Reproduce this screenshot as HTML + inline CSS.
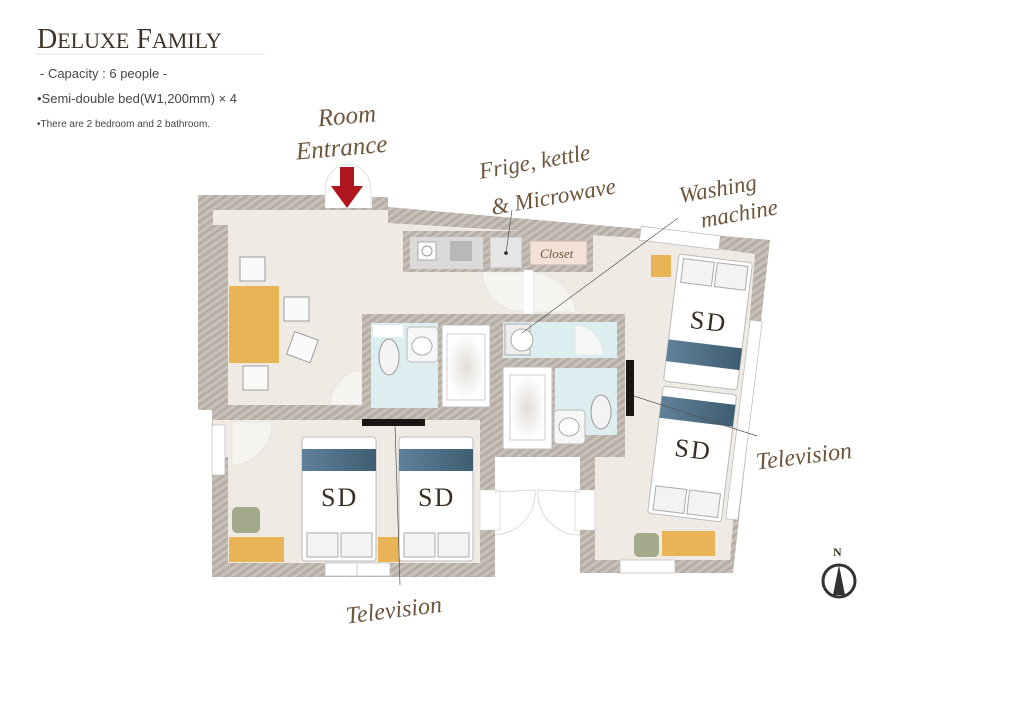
<!DOCTYPE html>
<html><head><meta charset="utf-8"><style>
html,body{margin:0;padding:0;background:#fff;}
svg{display:block}
.t{font-family:"Liberation Serif",serif;fill:#3e3226}
.s{font-family:"Liberation Sans",sans-serif;fill:#4a4540}
.sc{font-family:"Liberation Serif",serif;font-style:italic;fill:#6e553b}
.sd{font-family:"Liberation Serif",serif;fill:#3a2e22;font-size:26px;letter-spacing:2px}
</style></head><body>
<svg width="1024" height="723" viewBox="0 0 1024 723" xmlns="http://www.w3.org/2000/svg">
<defs>
<pattern id="h" width="6" height="6" patternUnits="userSpaceOnUse" patternTransform="rotate(-35)">
<rect width="6" height="6" fill="#bfb7ae"/><line x1="0" y1="2" x2="6" y2="2" stroke="#aca399" stroke-width="1"/><line x1="0" y1="5" x2="6" y2="5" stroke="#d2ccc5" stroke-width="1"/>
</pattern>
<linearGradient id="bl" x1="0" x2="1"><stop offset="0" stop-color="#5f8199"/><stop offset="1" stop-color="#3f5d72"/></linearGradient>
<radialGradient id="tub"><stop offset="0" stop-color="#e2ded8"/><stop offset="1" stop-color="#fff"/></radialGradient>
</defs>

<!-- header -->
<text x="37" y="48" class="t" font-size="28">D<tspan font-size="22">ELUXE</tspan> F<tspan font-size="22">AMILY</tspan></text>
<line x1="35" y1="54" x2="265" y2="54" stroke="#e6e2dc" stroke-width="1"/>
<text x="40" y="78" class="s" font-size="13">- Capacity : 6 people -</text>
<text x="37" y="103" class="s" font-size="13">•Semi-double bed(W1,200mm) × 4</text>
<text x="37" y="127" class="s" font-size="10" fill="#777">•There are 2 bedroom and 2 bathroom.</text>

<!-- entrance arc -->
<path d="M325 210 L325 190 A23 26 0 0 1 371 190 L371 210 Z" fill="#fff" stroke="#ccc" stroke-width="0.6"/>

<!-- walls -->
<path d="M198 195 L325 195 L325 208 L372 208 L372 197 L388 197 L388 207 L770 240 L733 573 L580 573 L580 456 L495 456 L495 577 L212 577 L212 410 L198 410 Z" fill="url(#h)"/>

<!-- floor -->
<path d="M213 210 L388 210 L388 223 L640 238 L755 254 L730 560 L595 560 L595 457 L213 457 Z" fill="#efebe4"/>
<rect x="228" y="420" width="252" height="143" fill="#efebe4"/>
<rect x="213" y="210" width="15" height="15" fill="#efebe4"/>
<rect x="213" y="225" width="15" height="185" fill="url(#h)"/>
<rect x="213" y="405" width="280" height="15" fill="url(#h)"/>
<rect x="480" y="405" width="15" height="172" fill="url(#h)"/>
<rect x="495" y="456" width="85" height="122" fill="#fff"/>

<!-- kitchen counter -->
<rect x="403" y="231" width="190" height="41" fill="url(#h)"/>
<rect x="410" y="237" width="73" height="32" fill="#dcdad8"/>
<rect x="418" y="242" width="18" height="18" fill="#fff" stroke="#aaa"/><circle cx="427" cy="251" r="5" fill="none" stroke="#999"/>
<rect x="450" y="241" width="22" height="20" fill="#b9b8b6"/>
<rect x="490" y="237" width="32" height="31" fill="#e6e5e3" stroke="#bbb"/>
<circle cx="506" cy="253" r="1.8" fill="#222"/>
<rect x="530" y="241" width="57" height="24" fill="#f3e0d6" stroke="#c9b8ac"/>
<text x="540" y="258" class="sc" font-size="13" fill="#5a4a3e">Closet</text>
<!-- doors -->
<path d="M482 272 L525 272 L525 312 A43 40 0 0 1 482 272 Z" fill="#f6f4f0" stroke="#ddd" stroke-width="0.6"/>
<path d="M533 272 A50 45 0 0 1 576 312 L533 312 Z" fill="#f6f4f0" stroke="#ddd" stroke-width="0.6"/>
<rect x="524" y="270" width="9" height="44" fill="#fff"/>
<path d="M362 370 A34 38 0 0 0 330 405 L362 405 Z" fill="#f6f4f0" stroke="#ddd" stroke-width="0.6"/>
<path d="M232 422 L272 422 A42 42 0 0 1 232 465 Z" fill="#f6f4f0" stroke="#ddd" stroke-width="0.6"/>

<!-- bath left -->
<rect x="362" y="314" width="133" height="98" fill="url(#h)"/>
<rect x="371" y="323" width="67" height="85" fill="#dceef0"/>
<rect x="373" y="325" width="30" height="12" fill="#fff"/>
<ellipse cx="389" cy="357" rx="10" ry="18" fill="#f3f3f3" stroke="#999"/>
<rect x="407" y="327" width="31" height="35" rx="4" fill="#f6f6f6" stroke="#bbb"/>
<ellipse cx="422" cy="346" rx="10" ry="9" fill="#fff" stroke="#aaa"/>
<rect x="442" y="325" width="48" height="82" fill="#fff" stroke="#bbb"/>
<rect x="447" y="334" width="38" height="66" fill="url(#tub)" stroke="#ccc"/>

<!-- bath right -->
<rect x="495" y="314" width="130" height="143" fill="url(#h)"/>
<rect x="503" y="322" width="114" height="36" fill="#dceef0"/>
<rect x="505" y="324" width="25" height="31" fill="#eee" stroke="#aaa"/>
<ellipse cx="522" cy="340" rx="11" ry="11" fill="#fff" stroke="#aaa"/>
<path d="M575 325 A28 30 0 0 1 603 355 L575 355 Z" fill="#f6f8f8" stroke="#ddd" stroke-width="0.6"/>
<rect x="503" y="367" width="49" height="82" fill="#fff" stroke="#bbb"/>
<rect x="510" y="375" width="35" height="65" fill="url(#tub)" stroke="#ccc"/>
<rect x="555" y="368" width="62" height="67" fill="#dceef0"/>
<ellipse cx="601" cy="412" rx="10" ry="17" fill="#f3f3f3" stroke="#999"/>
<rect x="554" y="410" width="31" height="34" rx="4" fill="#f6f6f6" stroke="#bbb"/>
<ellipse cx="569" cy="427" rx="10" ry="9" fill="#fff" stroke="#aaa"/>

<!-- TVs -->
<rect x="362" y="419" width="63" height="7" fill="#1a1412"/>
<rect x="626" y="360" width="8" height="56" fill="#1a1412"/>

<!-- double doors -->
<rect x="480" y="490" width="20" height="40" fill="#fff" stroke="#ccc" stroke-width="0.6"/>
<rect x="575" y="490" width="20" height="40" fill="#fff" stroke="#ccc" stroke-width="0.6"/>
<path d="M495 492 L535 490 A42 42 0 0 1 495 535" fill="none" stroke="#ccc" stroke-width="0.7"/>
<path d="M580 492 L538 490 A42 42 0 0 0 580 535" fill="none" stroke="#ccc" stroke-width="0.7"/>

<!-- windows -->
<g fill="#fff" stroke="#bbb" stroke-width="0.7">
<rect x="325" y="563" width="65" height="13"/><line x1="357" y1="563" x2="357" y2="576"/>
<rect x="212" y="425" width="13" height="50"/>
<rect x="620" y="560" width="55" height="13"/>
<rect x="640" y="231" width="80" height="14" transform="rotate(7 680 238)"/>
<rect x="738" y="320" width="12" height="200" transform="rotate(7 744 420)"/>
</g>

<!-- table & chairs -->
<rect x="229" y="286" width="50" height="77" fill="#e8b456"/>
<g fill="#fafafa" stroke="#888" stroke-width="0.8">
<rect x="240" y="257" width="25" height="24"/>
<rect x="284" y="297" width="25" height="24"/>
<rect x="290" y="335" width="25" height="24" transform="rotate(20 302 347)"/>
<rect x="243" y="366" width="25" height="24"/>
</g>
<rect x="229" y="537" width="55" height="25" fill="#e8b456"/>
<rect x="378" y="537" width="22" height="25" fill="#e8b456"/>
<rect x="662" y="531" width="53" height="25" fill="#e8b456"/>
<rect x="651" y="255" width="20" height="22" fill="#e8b456"/>
<rect x="232" y="507" width="28" height="26" rx="5" fill="#a3aa8c"/>
<rect x="634" y="533" width="25" height="24" rx="5" fill="#a3aa8c"/>

<!-- beds -->
<g>
<rect x="302" y="437" width="74" height="124" rx="3" fill="#fff" stroke="#bbb"/>
<rect x="302" y="449" width="74" height="22" fill="url(#bl)"/>
<rect x="307" y="533" width="31" height="24" fill="#f3f3f3" stroke="#aaa"/>
<rect x="341" y="533" width="31" height="24" fill="#f3f3f3" stroke="#aaa"/>
<text x="321" y="506" class="sd">SD</text>
</g>
<g>
<rect x="399" y="437" width="74" height="124" rx="3" fill="#fff" stroke="#bbb"/>
<rect x="399" y="449" width="74" height="22" fill="url(#bl)"/>
<rect x="404" y="533" width="31" height="24" fill="#f3f3f3" stroke="#aaa"/>
<rect x="438" y="533" width="31" height="24" fill="#f3f3f3" stroke="#aaa"/>
<text x="418" y="506" class="sd">SD</text>
</g>
<g transform="rotate(7 708 322)">
<rect x="671" y="258" width="74" height="128" rx="3" fill="#fff" stroke="#bbb"/>
<rect x="676" y="262" width="31" height="24" fill="#f3f3f3" stroke="#aaa"/>
<rect x="710" y="262" width="31" height="24" fill="#f3f3f3" stroke="#aaa"/>
<rect x="671" y="344" width="74" height="22" fill="url(#bl)"/>
<text x="690" y="330" class="sd">SD</text>
</g>
<g transform="rotate(7 692 455)">
<rect x="655" y="390" width="74" height="128" rx="3" fill="#fff" stroke="#bbb"/>
<rect x="655" y="400" width="74" height="22" fill="url(#bl)"/>
<rect x="660" y="490" width="31" height="24" fill="#f3f3f3" stroke="#aaa"/>
<rect x="694" y="490" width="31" height="24" fill="#f3f3f3" stroke="#aaa"/>
<text x="674" y="458" class="sd">SD</text>
</g>

<!-- arrow -->
<path d="M340 167 L354 167 L354 186 L363 186 L347 208 L331 186 L340 186 Z" fill="#b0161e"/>

<!-- leaders -->
<g stroke="#555" stroke-width="0.7" fill="none">
<line x1="506" y1="253" x2="512" y2="210"/>
<line x1="522" y1="333" x2="678" y2="218"/>
<line x1="634" y1="396" x2="757" y2="436"/>
<line x1="395" y1="425" x2="400" y2="585"/>
</g>

<!-- script labels -->
<text x="318" y="124" class="sc" font-size="25" transform="rotate(-5 345 120)">Room</text>
<text x="296" y="155" class="sc" font-size="25" transform="rotate(-5 350 150)">Entrance</text>
<text x="478" y="170" class="sc" font-size="23" transform="rotate(-10 530 160)">Frige, kettle</text>
<text x="490" y="203" class="sc" font-size="23" transform="rotate(-10 560 195)">&amp; Microwave</text>
<text x="678" y="195" class="sc" font-size="23" transform="rotate(-10 725 185)">Washing</text>
<text x="700" y="220" class="sc" font-size="23" transform="rotate(-10 745 212)">machine</text>
<text x="755" y="463" class="sc" font-size="24" transform="rotate(-7 810 450)">Television</text>
<text x="345" y="617" class="sc" font-size="24" transform="rotate(-7 400 605)">Television</text>

<!-- compass -->
<text x="833" y="556" class="t" font-size="12" font-weight="bold">N</text>
<circle cx="839" cy="581" r="16" fill="none" stroke="#333" stroke-width="3"/>
<path d="M839 565 L845 595 L833 595 Z" fill="#333"/>
</svg>
</body></html>
